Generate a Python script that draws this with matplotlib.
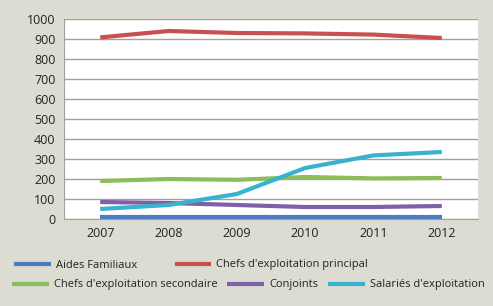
import matplotlib.pyplot as plt

years = [2007, 2008, 2009, 2010, 2011, 2012]
aides = [10, 10, 10, 10, 10, 10]
chefs_principal = [908, 940, 930, 928, 922, 905]
chefs_secondaire = [190, 200, 196, 210, 203, 205]
conjoints = [85, 80, 70, 60, 60, 65]
salaries = [50, 70, 125, 255, 318, 335]
y_ticks = [0, 100, 200, 300, 400, 500, 600, 700, 800, 900, 1000]

bg = "#dcdcd3"
plt.rcParams['font.family'] = ['Open Sans', 'DejaVu Sans']

fig = plt.figure(figsize=(4.93, 3.06), dpi=100, facecolor=bg)
ax = fig.add_axes([64 / 493, 1 - 219 / 306, (478 - 64) / 493, (219 - 19) / 306])
ax.set_facecolor("white")

lw = 3.0
l_aides, = ax.plot(years, aides, color="#4a7cc4", lw=lw, solid_capstyle="butt")
l_chefs, = ax.plot(years, chefs_principal, color="#c9504f", lw=lw, solid_capstyle="butt")
l_sec, = ax.plot(years, chefs_secondaire, color="#8cbd5a", lw=lw, solid_capstyle="butt")
l_conj, = ax.plot(years, conjoints, color="#7d60a8", lw=lw, solid_capstyle="butt")
l_sal, = ax.plot(years, salaries, color="#38b2cf", lw=lw, solid_capstyle="butt")

ax.set_xlim(2006.47, 2012.53)
ax.set_ylim(0, 1000)
ax.set_xticks(years)
ax.set_yticks(y_ticks)
ax.tick_params(length=0, labelsize=9, colors="#222222", pad=6)
ax.grid(axis="y", color="#a0a0a0", lw=1)
ax.set_axisbelow(True)
for side in ["top", "right"]:
    ax.spines[side].set_visible(False)
for side in ["left", "bottom"]:
    ax.spines[side].set_color("#a0a0a0")

# legend in two rows
leg_kw = dict(loc="center left", frameon=False, fontsize=8, handlelength=3.3,
              handletextpad=0.45, borderpad=0, borderaxespad=0, labelcolor="#222222")
fig.legend([l_aides, l_chefs], ["Aides Familiaux", "Chefs d'exploitation principal"],
           bbox_to_anchor=(14 / 493, 1 - 265 / 306), ncol=2, columnspacing=3.4, **leg_kw)
fig.legend([l_sec, l_conj, l_sal],
           ["Chefs d'exploitation secondaire", "Conjoints", "Salariés d'exploitation"],
           bbox_to_anchor=(12 / 493, 1 - 285 / 306), ncol=3, columnspacing=0.9, **leg_kw)

fig.savefig("out.png", dpi=100, facecolor=bg)
